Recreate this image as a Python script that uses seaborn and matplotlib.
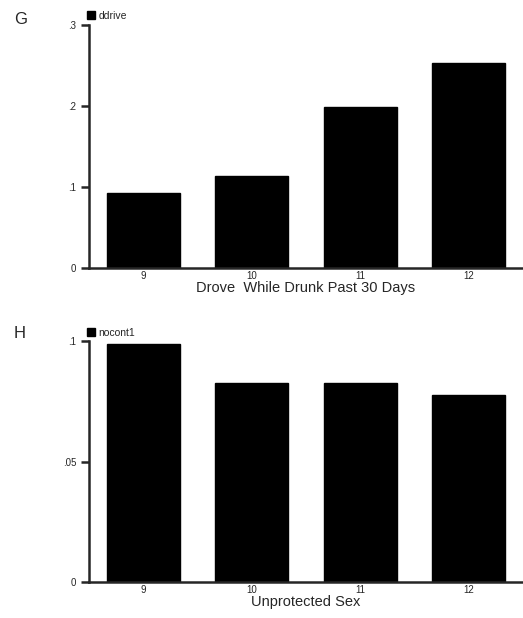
import pandas as pd
import seaborn as sns
import matplotlib.pyplot as plt
from matplotlib.patches import Patch

# 数据
grades = ['9', '10', '11', '12']
ddrive = [0.093, 0.114, 0.199, 0.253]
nocont1 = [0.0988, 0.0826, 0.0826, 0.0776]

sns.set_style('ticks')
plt.rcParams['font.family'] = ['Liberation Sans', 'DejaVu Sans']

fig = plt.figure(figsize=(5.23, 6.18), dpi=100)
ax_g = fig.add_axes([0.170, 0.566, 0.83, 0.394])
ax_h = fig.add_axes([0.170, 0.0583, 0.83, 0.3897])

panels = [
    (ax_g, ddrive, 'ddrive', 'Drove  While Drunk Past 30 Days', (0, 0.3), [0, 0.1, 0.2, 0.3], ['0', '.1', '.2', '.3'], 'G', 20),
    (ax_h, nocont1, 'nocont1', 'Unprotected Sex', (0, 0.1), [0, 0.05, 0.1], ['0', '.05', '.1'], 'H', 333),
]

for ax, vals, name, xlabel, ylim, yticks, ylabels, letter, letter_y in panels:
    df = pd.DataFrame({'grade': grades, 'val': vals})
    sns.barplot(data=df, x='grade', y='val', color='black', width=0.67,
                saturation=1, ax=ax, edgecolor='black')
    ax.set_xlim(-0.5, 3.5)
    ax.set_ylim(*ylim)
    ax.set_yticks(yticks)
    ax.set_yticklabels(ylabels, fontsize=7)
    ax.tick_params(axis='y', direction='out', length=6, width=1.8, pad=3)
    ax.tick_params(axis='x', length=0, labelsize=7, pad=2)
    ax.set_xlabel(xlabel, fontsize=10.5, labelpad=0)
    ax.set_ylabel('')
    for s in ['top', 'right']:
        ax.spines[s].set_visible(False)
    ax.spines['left'].set_linewidth(1.8)
    ax.spines['bottom'].set_linewidth(1.8)
    ax.legend(handles=[Patch(facecolor='black', edgecolor='black', label=name)],
              loc='lower left', bbox_to_anchor=(-0.005, 1.015), frameon=False,
              fontsize=7.5, handlelength=0.8, handleheight=0.8, handletextpad=0.3,
              borderaxespad=0, borderpad=0)
    fig.text(14 / 523, 1 - letter_y / 618, letter, fontsize=12, va='center', ha='left')

plt.savefig('out.png', dpi=100)
